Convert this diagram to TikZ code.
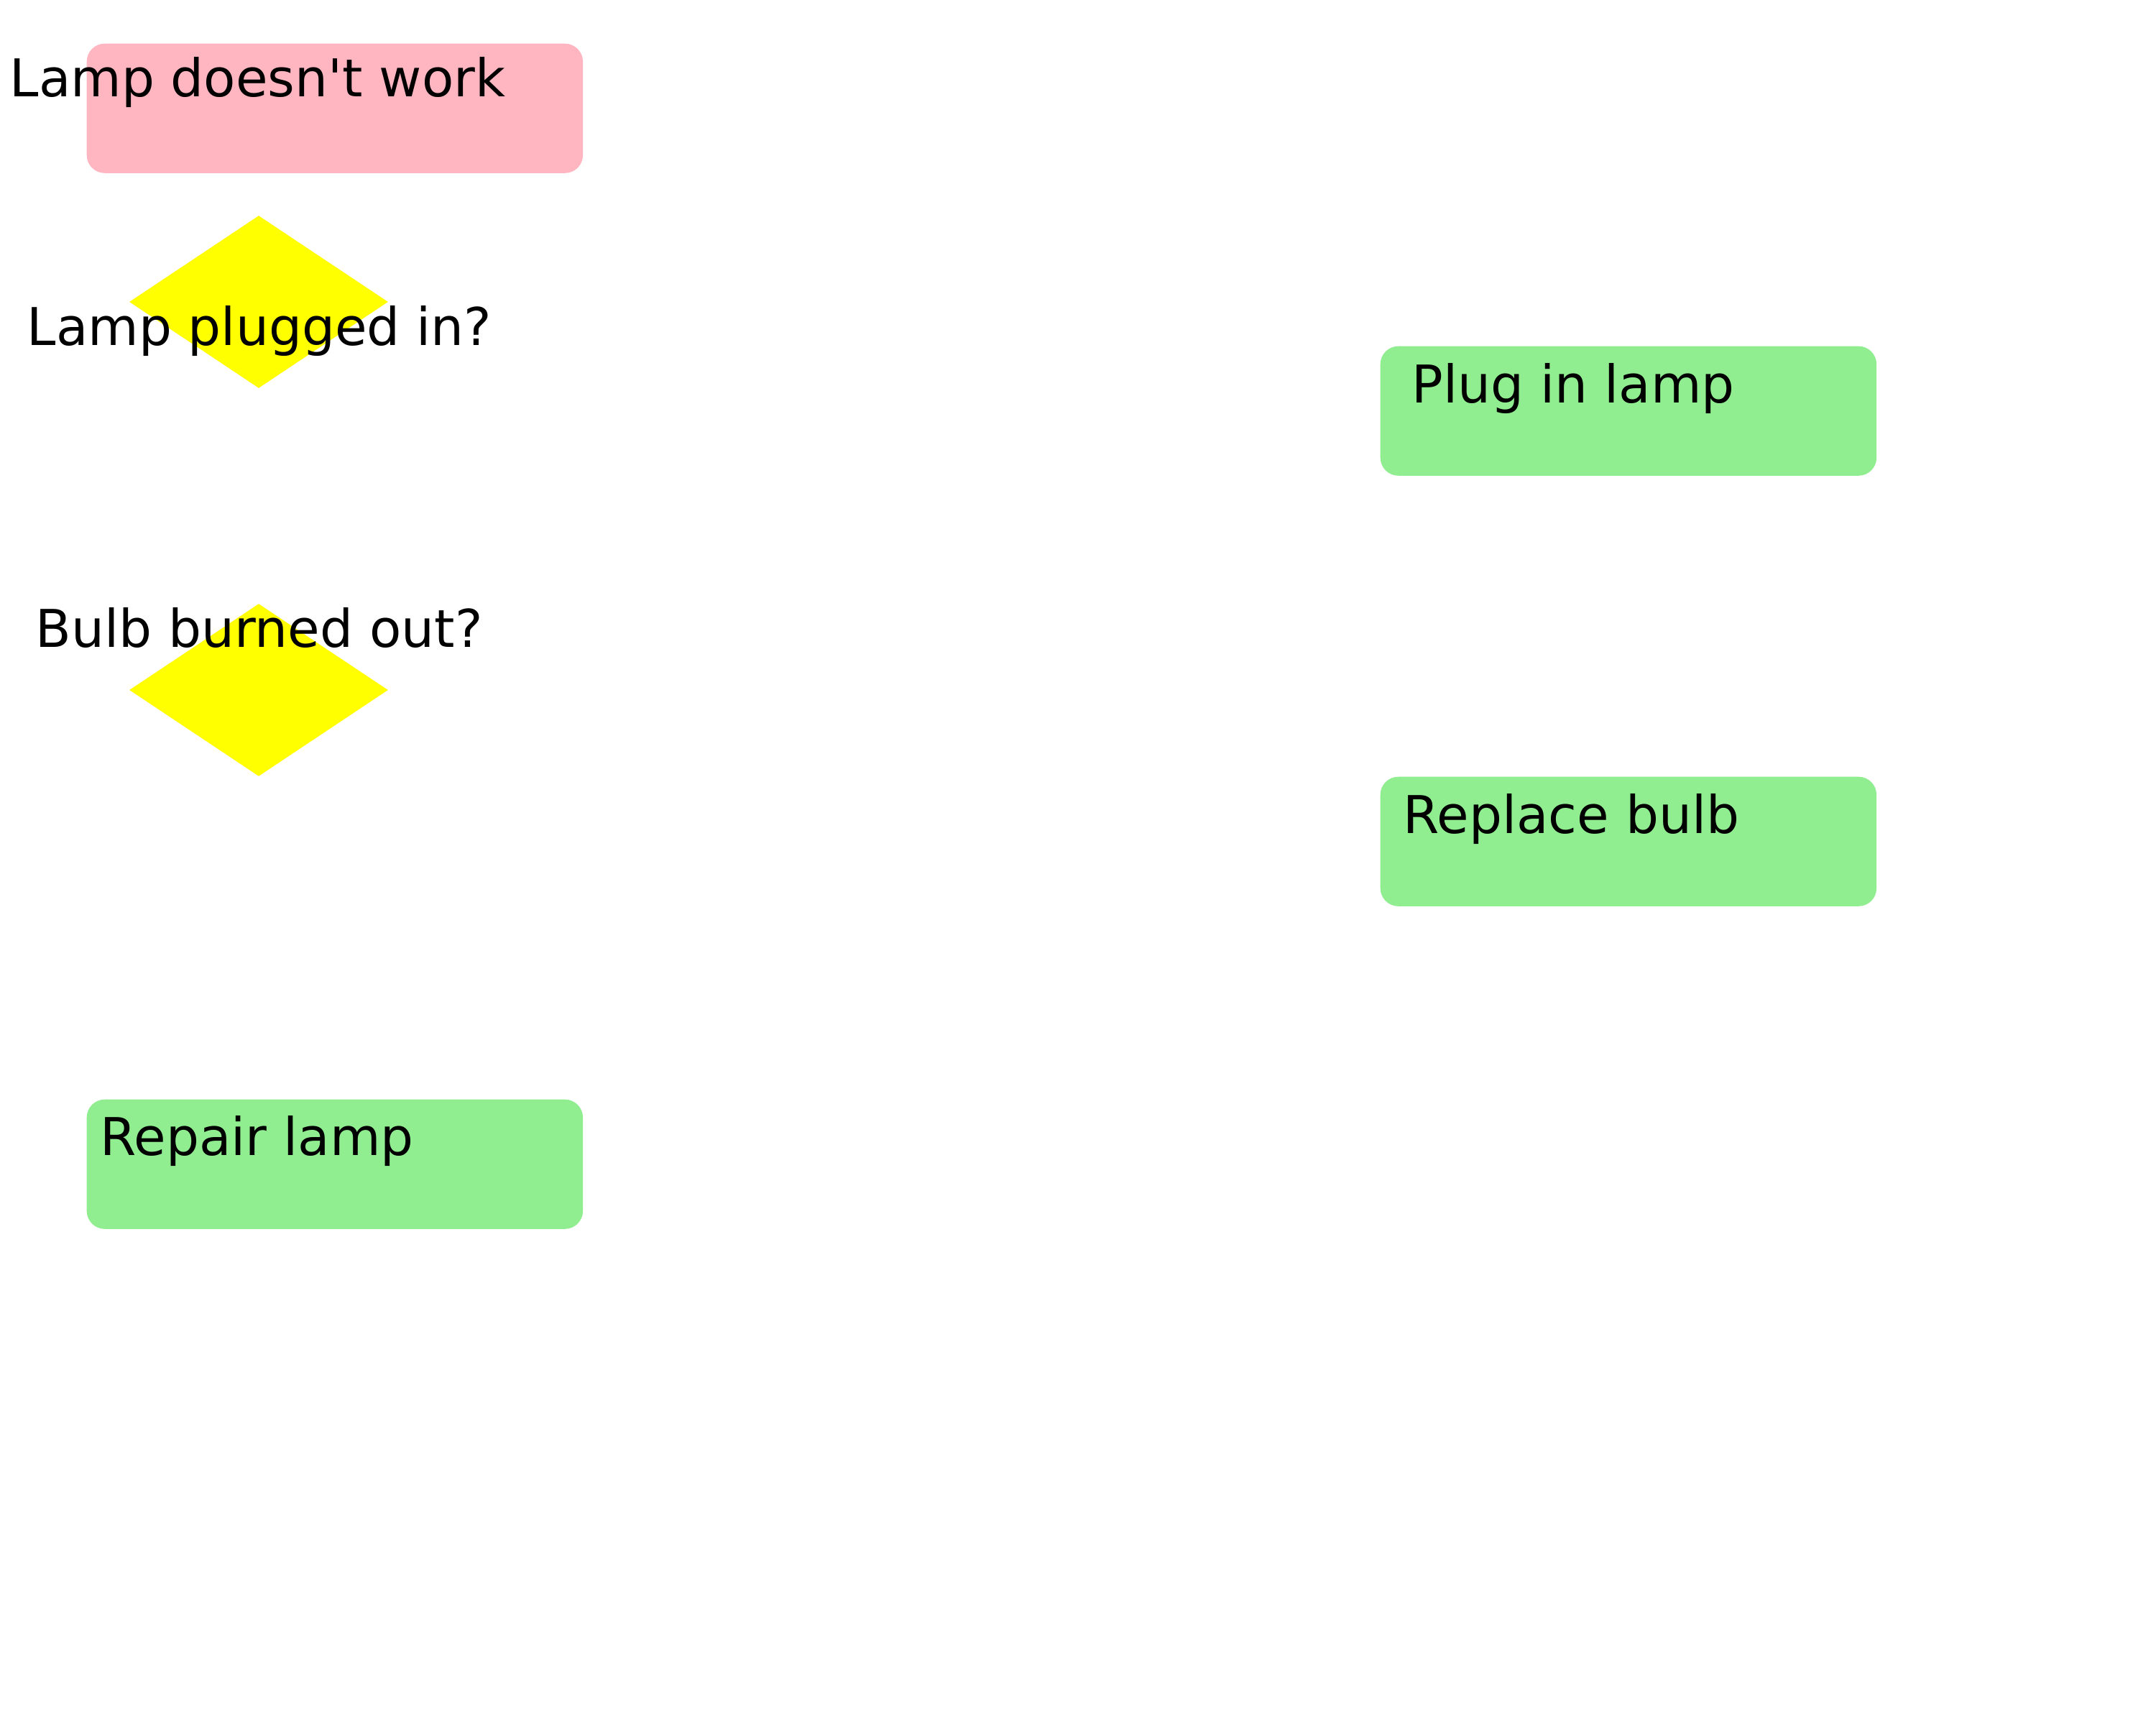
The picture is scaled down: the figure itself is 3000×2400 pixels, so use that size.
\documentclass[tikz,border=0pt]{standalone}
\usepackage{fontspec}
\setmainfont{DejaVu Sans}[Ligatures=NoCommon]
\usetikzlibrary{shapes.geometric}
\definecolor{boxpink}{HTML}{FFB6C1}
\definecolor{boxgreen}{HTML}{90EE90}
\definecolor{dyellow}{HTML}{FFFF00}
\begin{document}
\begin{tikzpicture}[x=0.01cm,y=-0.01cm,
  rbox/.style={draw=none,rounded corners=0.25cm,minimum width=6.9cm,minimum height=1.8cm,inner sep=0,anchor=north west},
  dshape/.style={draw=none,fill=dyellow,diamond,aspect=1.5,minimum width=3.6cm,minimum height=2.4cm,inner sep=0},
  lbl/.style={anchor=base west,inner sep=0,font=\fontsize{20.6pt}{24pt}\selectfont}]
\useasboundingbox (0,0) rectangle (3000,2400);
\fill[white] (0,0) rectangle (3000,2400);
\node[rbox,fill=boxpink] (start) at (120,60) {};
\node[dshape] (q1) at (360,420) {};
\node[dshape] (q2) at (360,960) {};
\node[rbox,fill=boxgreen] (plug) at (1920,481) {};
\node[rbox,fill=boxgreen] (repl) at (1920,1080) {};
\node[rbox,fill=boxgreen] (rep) at (120,1529) {};
\node[lbl] (tstart) at (13,135) {Lamp doesn\textquotesingle t work};
\node[lbl] (tq1) at (37,480) {Lamp plugged in?};
\node[lbl] (tq2) at (49,900) {Bulb burned out?};
\node[lbl] (tplug) at (1964,560) {Plug in lamp};
\node[lbl] (trepl) at (1952,1159) {Replace bulb};
\node[lbl] (trep) at (139,1607) {Repair lamp};
\end{tikzpicture}
\end{document}
